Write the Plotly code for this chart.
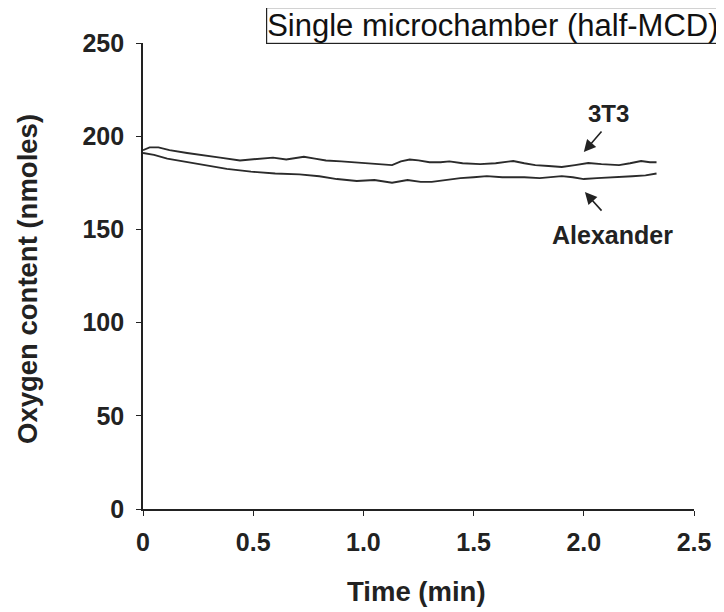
import plotly.graph_objects as go

# ---- data ----
t_3t3 = [0, 0.03, 0.07, 0.12, 0.2, 0.28, 0.35, 0.44, 0.5, 0.55, 0.59, 0.65, 0.73, 0.78, 0.83,
         0.9, 0.97, 1.03, 1.08, 1.13, 1.17, 1.21, 1.25, 1.3, 1.35, 1.39, 1.45, 1.53, 1.6, 1.68,
         1.73, 1.78, 1.84, 1.9, 1.96, 2.02, 2.08, 2.16, 2.21, 2.26, 2.3, 2.33]
o2_3t3 = [192.5, 194, 194, 192.5, 191, 189.5, 188.5, 187, 187.5, 188, 188.5, 187.5, 189, 188, 187,
          186.5, 186, 185.5, 185, 184.5, 186.5, 187.5, 187, 186, 186, 186.5, 185.5, 185, 185.5, 186.7,
          185.5, 184.5, 184, 183.5, 184.5, 185.6, 185, 184.5, 185.5, 186.7, 186, 186]

t_alex = [0, 0.05, 0.11, 0.18, 0.28, 0.38, 0.49, 0.6, 0.71, 0.8, 0.88, 0.97, 1.05, 1.13, 1.2,
          1.26, 1.31, 1.37, 1.44, 1.5, 1.56, 1.63, 1.73, 1.8, 1.9, 1.95, 2.0, 2.06, 2.16, 2.22,
          2.28, 2.33]
o2_alex = [191, 190, 188, 186.5, 184.5, 182.5, 181, 180, 179.5, 178.5, 177, 176, 176.5, 175, 176.5,
           175.5, 175.5, 176.5, 177.5, 178, 178.6, 178, 178, 177.5, 178.6, 178, 177, 177.5, 178, 178.5,
           179, 180]

x_tickvals = [0, 0.5, 1.0, 1.5, 2.0, 2.5]
x_ticktext = ["0", "0.5", "1.0", "1.5", "2.0", "2.5"]
y_tickvals = [0, 50, 100, 150, 200, 250]

title_text = "Single microchamber (half-MCD)"
x_title = "Time (min)"
y_title = "Oxygen content (nmoles)"

FONT = "Liberation Sans, Arial, Helvetica, sans-serif"
LINE = "#2b2b2b"

fig = go.Figure()
fig.add_trace(go.Scatter(x=t_3t3, y=o2_3t3, mode="lines", name="3T3",
                         line=dict(color=LINE, width=1.9)))
fig.add_trace(go.Scatter(x=t_alex, y=o2_alex, mode="lines", name="Alexander",
                         line=dict(color=LINE, width=1.9)))

fig.update_layout(
    width=716, height=604,
    margin=dict(l=135, r=30, t=35, b=103),
    paper_bgcolor="white", plot_bgcolor="white",
    showlegend=False,
    font=dict(family=FONT, color="#222"),
    xaxis=dict(range=[0, 2.5], tickvals=x_tickvals, ticktext=x_ticktext,
               showgrid=False, zeroline=False, showline=True, linecolor="#222", linewidth=1.6,
               ticks="outside", ticklen=5, tickwidth=1.2, tickcolor="#222",
               ticklabelstandoff=5,
               tickfont=dict(family=FONT, size=25, color="#222", weight="bold")),
    yaxis=dict(range=[0, 250], tickvals=y_tickvals,
               showgrid=False, zeroline=False, showline=True, linecolor="#222", linewidth=1.6,
               ticks="outside", ticklen=5, tickwidth=1.2, tickcolor="#222",
               ticklabelstandoff=7,
               tickfont=dict(family=FONT, size=25, color="#222", weight="bold")),
)

annotations = [
    dict(text=title_text, xref="paper", yref="paper", x=0.635, y=1.0376,
         xanchor="center", yanchor="middle", showarrow=False,
         font=dict(family=FONT, size=31, color="#111"),
         bordercolor="#222", borderwidth=1.2, borderpad=0, bgcolor="white"),
    dict(text=x_title, xref="paper", yref="paper", x=0.497, y=-0.178,
         xanchor="center", yanchor="middle", showarrow=False,
         font=dict(family=FONT, size=27.5, color="#222", weight="bold")),
    dict(text=y_title, xref="paper", yref="paper", x=-0.2087, y=0.4936,
         xanchor="center", yanchor="middle", showarrow=False, textangle=-90,
         font=dict(family=FONT, size=27.5, color="#222", weight="bold")),
    # series labels
    dict(text="3T3", x=2.11, y=212.4, xanchor="center", yanchor="middle", showarrow=False,
         font=dict(family=FONT, size=24, color="#222", weight="bold")),
    dict(text="Alexander", x=2.13, y=147, xanchor="center", yanchor="middle", showarrow=False,
         font=dict(family=FONT, size=25, color="#222", weight="bold")),
    # arrows
    dict(text="", x=2.0, y=191.5, ax=19, ay=-22, showarrow=True,
         arrowhead=2, arrowsize=1.5, arrowwidth=1.6, arrowcolor="#222"),
    dict(text="", x=2.005, y=170, ax=18, ay=20, showarrow=True,
         arrowhead=2, arrowsize=1.5, arrowwidth=1.6, arrowcolor="#222"),
]
fig.update_layout(annotations=annotations)

fig.write_html("out.html")
